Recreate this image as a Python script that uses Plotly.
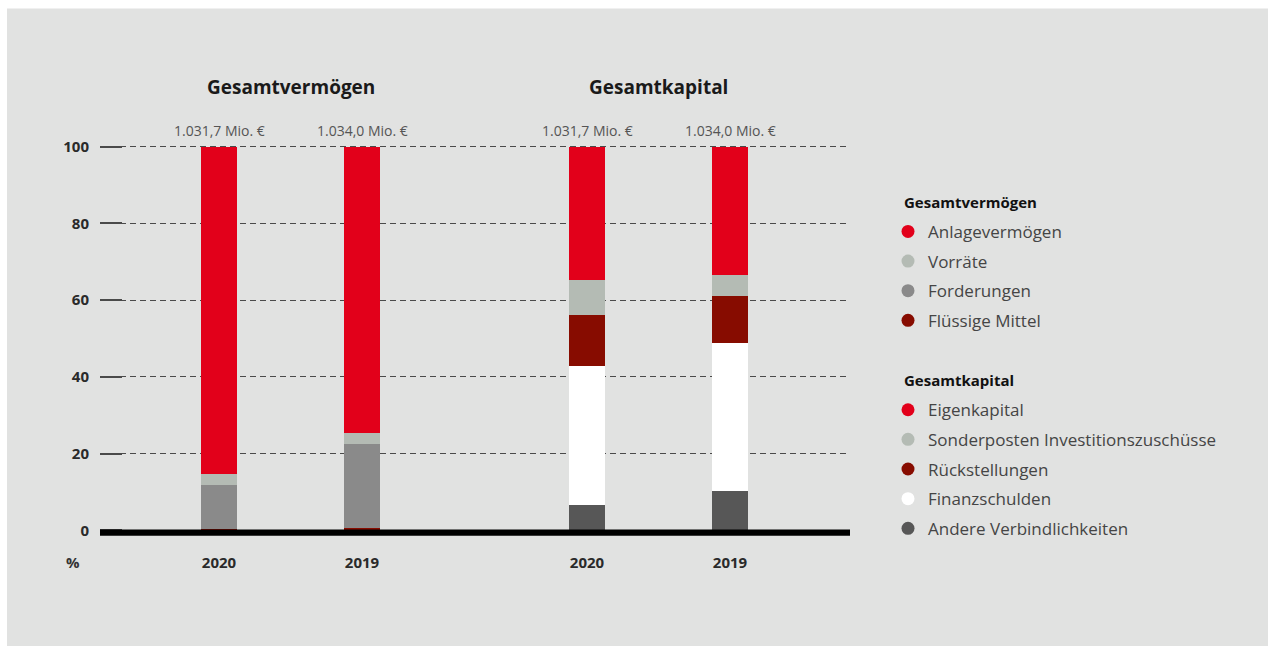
import plotly.graph_objects as go

# ---------------- data ----------------
years = ["2020", "2019"]
totals = ["1.031,7 Mio. €", "1.034,0 Mio. €"]
groups = ["Gesamtvermögen", "Gesamtkapital"]

# Gesamtvermögen (top of stack first)
gv_series = ["Anlagevermögen", "Vorräte", "Forderungen", "Flüssige Mittel"]
gv_anlage = [85.3, 74.6]
gv_vorraete = [2.9, 2.9]
gv_forderungen = [11.4, 22.0]
gv_fluessig = [0.4, 0.5]
gv_values = [gv_anlage, gv_vorraete, gv_forderungen, gv_fluessig]

# Gesamtkapital (top of stack first)
gk_series = ["Eigenkapital", "Sonderposten Investitionszuschüsse", "Rückstellungen",
             "Finanzschulden", "Andere Verbindlichkeiten"]
gk_eigen = [34.7, 33.5]
gk_sonder = [9.3, 5.4]
gk_rueck = [13.2, 12.2]
gk_finanz = [36.3, 38.7]
gk_andere = [6.5, 10.2]
gk_values = [gk_eigen, gk_sonder, gk_rueck, gk_finanz, gk_andere]

y_ticks = [0, 20, 40, 60, 80, 100]

# ---------------- styles ----------------
RED = "#e2001a"
LIGHT = "#b4bbb4"
MID = "#8a8a8a"
DARKRED = "#870c00"
WHITE = "#ffffff"
DARK = "#575757"
gv_colors = [RED, LIGHT, MID, DARKRED]
gk_colors = [RED, LIGHT, DARKRED, WHITE, DARK]

BG = "#e1e2e1"
FONT = "Open Sans"

W, H = 1268, 646
Y0_PX, Y100_PX = 530.0, 147.0          # pixel rows of 0 % and 100 %
PX_PER_UNIT = (Y0_PX - Y100_PX) / 100.0
PAD_UNITS = 2.0
PL, PR = 100, 850
PT = Y100_PX - PAD_UNITS * PX_PER_UNIT
PB = Y0_PX + PAD_UNITS * PX_PER_UNIT

def px_x(p):
    return (p - PL) / (PR - PL)

def px_y(q):
    return (PB - q) / (PB - PT)

# layout positions of bars (axis units = pixels)
first_bar = 219
year_step = 143
group_step = 368
bar_width = 36
positions = [[first_bar + g * group_step + i * year_step for i in range(len(years))]
             for g in range(len(groups))]

fig = go.Figure()

for g, (names, vals, cols) in enumerate([(gv_series, gv_values, gv_colors),
                                         (gk_series, gk_values, gk_colors)]):
    for name, v, c in reversed(list(zip(names, vals, cols))):
        fig.add_trace(go.Bar(
            x=positions[g], y=v, name=name, width=bar_width,
            marker=dict(color=c, line=dict(width=0)),
            showlegend=False, hovertemplate=name + ": %{y}%<extra></extra>",
        ))

shapes = []
annotations = []

# background panel (white margin at top/left like the reference)
shapes.append(dict(type="rect", xref="paper", yref="paper",
                   x0=px_x(7), x1=px_x(W + 2), y0=px_y(9), y1=px_y(H + 2),
                   fillcolor=BG, line=dict(width=0), layer="below"))
# baseline
shapes.append(dict(type="rect", xref="paper", yref="y", ysizemode="pixel", yanchor=0,
                   x0=0, x1=1, y0=-5.5, y1=0.8, fillcolor="#000000",
                   line=dict(width=0), layer="above"))

# group titles and totals
for g, title in enumerate(groups):
    cx = sum(positions[g]) / len(positions[g])
    annotations.append(dict(x=cx, y=px_y(87), xref="x", yref="paper", text=title,
                            xanchor="center", yanchor="middle", showarrow=False,
                            font=dict(family=FONT, size=19, color="#1a1a1a", weight="bold")))
    for i, t in enumerate(totals):
        annotations.append(dict(x=positions[g][i], y=px_y(131), xref="x", yref="paper", text=t,
                                xanchor="center", yanchor="middle", showarrow=False,
                                font=dict(family=FONT, size=14, color="#555555")))

# percent label
annotations.append(dict(x=px_x(73), y=px_y(562), xref="paper", yref="paper", text="%",
                        xanchor="center", yanchor="middle", showarrow=False,
                        font=dict(family=FONT, size=15, color="#333333", weight="bold")))

# custom legend
legend_x_title = 902
legend_x_marker = 908
legend_x_text = 926
row_h = 29.6
legend_blocks = [(groups[0], gv_series, gv_colors, 202), (groups[1], gk_series, gk_colors, 380)]
for title, names, cols, ty in legend_blocks:
    annotations.append(dict(x=px_x(legend_x_title), y=px_y(ty), xref="paper", yref="paper", text=title,
                            xanchor="left", yanchor="middle", showarrow=False,
                            font=dict(family=FONT, size=15, color="#111111", weight="bold")))
    for k, (n, c) in enumerate(zip(names, cols)):
        yy = ty + row_h * (k + 1)
        shapes.append(dict(type="circle", xref="paper", yref="paper",
                           xsizemode="pixel", ysizemode="pixel",
                           xanchor=px_x(legend_x_marker), yanchor=px_y(yy),
                           x0=-6.5, x1=6.5, y0=-6.5, y1=6.5,
                           fillcolor=c, line=dict(width=0)))
        annotations.append(dict(x=px_x(legend_x_text), y=px_y(yy), xref="paper", yref="paper",
                                text=n, xanchor="left", yanchor="middle", showarrow=False,
                                font=dict(family=FONT, size=17, color="#454545")))

tickvals_x = [p for grp in positions for p in grp]
ticktext_x = [y for _ in groups for y in years]

fig.update_layout(
    width=W, height=H,
    margin=dict(l=PL, r=W - PR, t=PT, b=H - PB, pad=0),
    paper_bgcolor="#ffffff", plot_bgcolor="rgba(0,0,0,0)",
    barmode="stack", bargap=0,
    showlegend=False,
    font=dict(family=FONT, color="#333333"),
    xaxis=dict(range=[PL, PR], tickvals=tickvals_x, ticktext=ticktext_x,
               showgrid=False, zeroline=False, showline=False, ticks="",
               ticklabelstandoff=int(round(22 - PAD_UNITS * PX_PER_UNIT)),
               tickfont=dict(family=FONT, size=15, color="#2a2a2a", weight="bold"),
               fixedrange=True),
    yaxis=dict(range=[-PAD_UNITS, 100 + PAD_UNITS], tickvals=y_ticks, ticktext=[str(v) for v in y_ticks],
               showgrid=True, gridcolor="#4a4a4a", gridwidth=1.2, griddash="6px,4px",
               zeroline=False, showline=False,
               ticks="inside", ticklen=22, tickwidth=2, tickcolor="#4a4a4a",
               ticklabelstandoff=10,
               tickfont=dict(family=FONT, size=15, color="#2a2a2a", weight="bold"),
               fixedrange=True),
    shapes=shapes,
    annotations=annotations,
)

fig.write_html("out.html", config={"displayModeBar": False},
               post_script="document.body.style.margin='0';document.body.style.overflow='hidden';")
